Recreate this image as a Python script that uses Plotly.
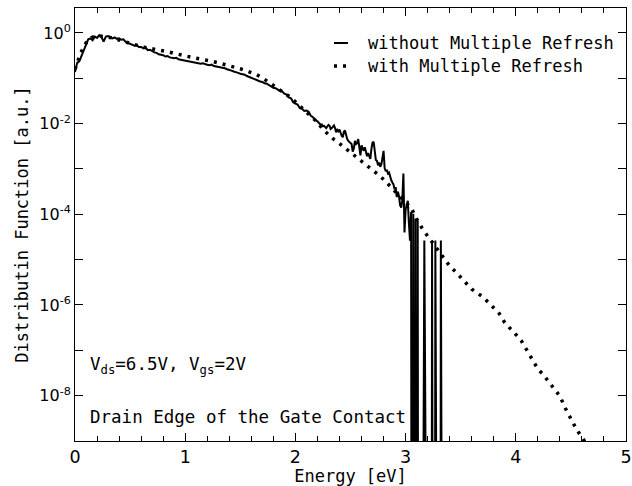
import numpy as np
import plotly.graph_objects as go

# ---- data: "without Multiple Refresh" (log10 of distribution), step 0.02 eV from 0 to 2.18
E_a_start, E_a_step = 0.0, 0.02
lg_without_a = [
    -0.86, -0.66, -0.62, -0.50, -0.38, -0.26, -0.14, -0.12, -0.16, -0.08,
    -0.11, -0.05, -0.09, -0.19, -0.08, -0.07, -0.09, -0.12, -0.10, -0.13,
    -0.12, -0.15, -0.14, -0.20, -0.22, -0.24, -0.26, -0.28, -0.27, -0.31,
    -0.31, -0.34, -0.32, -0.38, -0.37, -0.41, -0.43, -0.44, -0.47, -0.48,
    -0.49, -0.52, -0.51, -0.54, -0.55, -0.56, -0.55, -0.58, -0.59, -0.60,
    -0.61, -0.62, -0.63, -0.64, -0.66, -0.66, -0.67, -0.68, -0.67, -0.69,
    -0.70, -0.71, -0.70, -0.73, -0.74, -0.74, -0.76, -0.77, -0.78, -0.80,
    -0.81, -0.83, -0.85, -0.86, -0.88, -0.90, -0.91, -0.92, -0.95, -0.97,
    -1.00, -1.02, -1.03, -1.05, -1.07, -1.08, -1.11, -1.12, -1.15, -1.17,
    -1.21, -1.22, -1.25, -1.28, -1.29, -1.34, -1.36, -1.42, -1.44, -1.53,
    -1.56, -1.58, -1.66, -1.67, -1.72, -1.71, -1.74, -1.83, -1.86, -1.92,
]
# step 0.01 eV from 2.20 to 3.35 ; None = empty bin (zero)
E_b_start, E_b_step = 2.20, 0.01
lg_without_b = [
    -1.95, -1.98, -2.00, -2.03, -2.02, -2.06, -2.05, -2.07, -2.10, -2.06,
    -2.03, -2.05, -2.12, -2.10, -2.06, -2.04, -2.10, -2.19, -2.14, -2.17,
    -2.13, -2.22, -2.27, -2.30, -2.18, -2.15, -2.26, -2.34, -2.38, -2.40,
    -2.44, -2.45, -2.62, -2.55, -2.38, -2.45, -2.43, -2.34, -2.52, -2.70,
    -2.48, -2.55, -2.60, -2.52, -2.66, -2.72, -2.65, -2.74, -2.78, -2.55,
    -2.42, -2.40, -2.62, -2.80, -2.82, -2.92, -2.86, -2.95, -2.90, -2.70,
    -2.60, -2.98, -3.05, -3.02, -3.10, -3.08, -3.20, -3.25, -3.30, -3.34,
    -3.45, -3.40, -3.62, -3.50, -3.60, -3.80, -3.85, -3.70, -3.10, -4.40,
    -3.90, -3.75, -3.70, -4.20, -4.58, -3.95, None, -3.99, None, -4.10,
    None, -4.14, None, None, None, None, None, -4.58, None, None,
    None, None, None, None, -4.58, None, None, -4.58, None, None,
    None, None, -4.58, None, None, None,
]

# ---- data: "with Multiple Refresh"
E_with = [
    0.00, 0.05, 0.10, 0.15, 0.20, 0.25, 0.30, 0.35, 0.40, 0.45,
    0.50, 0.55, 0.60, 0.65, 0.70, 0.75, 0.80, 0.85, 0.90, 0.95,
    1.00, 1.05, 1.10, 1.15, 1.20, 1.25, 1.30, 1.35, 1.40, 1.45,
    1.50, 1.55, 1.60, 1.65, 1.70, 1.75, 1.80, 1.85, 1.90, 1.95,
    2.00, 2.05, 2.10, 2.15, 2.20, 2.25, 2.30, 2.35, 2.40, 2.45,
    2.50, 2.55, 2.60, 2.65, 2.70, 2.75, 2.80, 2.85, 2.90, 2.95,
    3.00, 3.05, 3.10, 3.15, 3.20, 3.25, 3.30, 3.35, 3.40, 3.45,
    3.50, 3.55, 3.60, 3.65, 3.70, 3.75, 3.80, 3.85, 3.90, 3.95,
    4.00, 4.05, 4.10, 4.15, 4.20, 4.25, 4.30, 4.35, 4.40, 4.45,
    4.50, 4.55, 4.60, 4.65,
]
lg_with = [
    -0.80, -0.45, -0.22, -0.10, -0.06, -0.07, -0.09, -0.12, -0.15, -0.19,
    -0.23, -0.27, -0.30, -0.33, -0.35, -0.37, -0.39, -0.42, -0.45, -0.48,
    -0.51, -0.53, -0.56, -0.58, -0.60, -0.63, -0.66, -0.69, -0.72, -0.75,
    -0.79, -0.83, -0.87, -0.92, -0.99, -1.07, -1.16, -1.24, -1.31, -1.41,
    -1.52, -1.63, -1.74, -1.86, -1.97, -2.13, -2.25, -2.35, -2.44, -2.53,
    -2.64, -2.73, -2.83, -2.92, -3.02, -3.12, -3.23, -3.36, -3.48, -3.60,
    -3.73, -3.86, -4.10, -4.31, -4.48, -4.65, -4.82, -5.00, -5.14, -5.26,
    -5.38, -5.52, -5.65, -5.73, -5.82, -5.94, -6.06, -6.19, -6.39, -6.51,
    -6.65, -6.79, -6.99, -7.21, -7.41, -7.54, -7.70, -7.88, -8.01, -8.28,
    -8.51, -8.74, -8.92, -9.10,
]

series_names = ["without Multiple Refresh", "with Multiple Refresh"]

ytick_vals = [1e-8, 1e-6, 1e-4, 1e-2, 1e0]
ytick_text = ["10<sup>-8</sup>", "10<sup>-6</sup>", "10<sup>-4</sup>", "10<sup>-2</sup>", "10<sup>0</sup>"]
yminor_vals = [1e-9, 1e-7, 1e-5, 1e-3, 1e-1]

ZERO_FLOOR = 1e-30  # empty bins drawn down to the bottom of the log axis

E_without = [round(E_a_start + i * E_a_step, 4) for i in range(len(lg_without_a))] + \
            [round(E_b_start + i * E_b_step, 4) for i in range(len(lg_without_b))]
y_without = [10 ** v for v in lg_without_a] + \
            [ZERO_FLOOR if v is None else 10 ** v for v in lg_without_b]
y_with = [10 ** v for v in lg_with]

mono = "DejaVu Sans Mono"
solid_line = dict(color="black", width=2)
dot_line = dict(color="black", width=3.5, dash="3px,6px")

fig = go.Figure()
fig.add_trace(go.Scatter(x=E_without, y=y_without, mode="lines",
                         name=series_names[0], line=solid_line, showlegend=False))
fig.add_trace(go.Scatter(x=E_with, y=y_with, mode="lines",
                         name=series_names[1], line=dot_line, showlegend=False))

# plot area in pixels: x 75..626, y 8..441
def px_x(px):
    return (px - 75) / 551.0

def px_y(py):
    return (441 - py) / 433.0

legend_rows = [(43, series_names[0], solid_line), (66, series_names[1], dot_line)]
shapes = []
annotations = []
for py, name, ln in legend_rows:
    shapes.append(dict(type="line", xref="paper", yref="paper",
                       x0=px_x(334), x1=px_x(348), y0=px_y(py), y1=px_y(py),
                       line=ln))
    annotations.append(dict(x=px_x(366), y=px_y(py), xref="paper", yref="paper",
                            xanchor="left", yanchor="middle", text=name, showarrow=False,
                            font=dict(family=mono, size=17)))

annotations += [
    dict(x=px_x(88), y=px_y(365), xref="paper", yref="paper", xanchor="left", yanchor="middle",
         text="V<sub>ds</sub>=6.5V, V<sub>gs</sub>=2V", showarrow=False,
         font=dict(family=mono, size=17.5)),
    dict(x=px_x(88), y=px_y(417), xref="paper", yref="paper", xanchor="left", yanchor="middle",
         text="Drain Edge of the Gate Contact", showarrow=False,
         font=dict(family=mono, size=17.5)),
]

fig.update_layout(
    width=632, height=486,
    margin=dict(l=75, r=6, t=8, b=45, autoexpand=False),
    paper_bgcolor="white", plot_bgcolor="white",
    font=dict(family="DejaVu Sans", size=16, color="black"),
    showlegend=False,
    shapes=shapes,
    annotations=annotations,
)
fig.update_xaxes(
    range=[0, 5], showgrid=False, zeroline=False, automargin=False,
    showline=True, linecolor="black", linewidth=1, mirror="allticks",
    ticks="inside", ticklen=8, tickcolor="black", dtick=1, tick0=0,
    minor=dict(ticks="inside", ticklen=5, dtick=0.2, tick0=0, tickcolor="black", showgrid=False),
    title=dict(text="Energy [eV]", font=dict(family=mono, size=17), standoff=6),
    tickfont=dict(size=17.5),
)
fig.update_yaxes(
    type="log", range=[-9.0, 0.55], showgrid=False, zeroline=False, automargin=False,
    showline=True, linecolor="black", linewidth=1, mirror="allticks",
    ticks="inside", ticklen=8, tickcolor="black",
    tickmode="array", tickvals=ytick_vals, ticktext=ytick_text,
    minor=dict(ticks="inside", ticklen=8, tickmode="array", tickvals=yminor_vals,
               tickcolor="black", showgrid=False),
    title=dict(text="Distributin Function [a.u.]", font=dict(family=mono, size=17), standoff=6),
    tickfont=dict(size=16),
)

fig.write_html("out.html")
